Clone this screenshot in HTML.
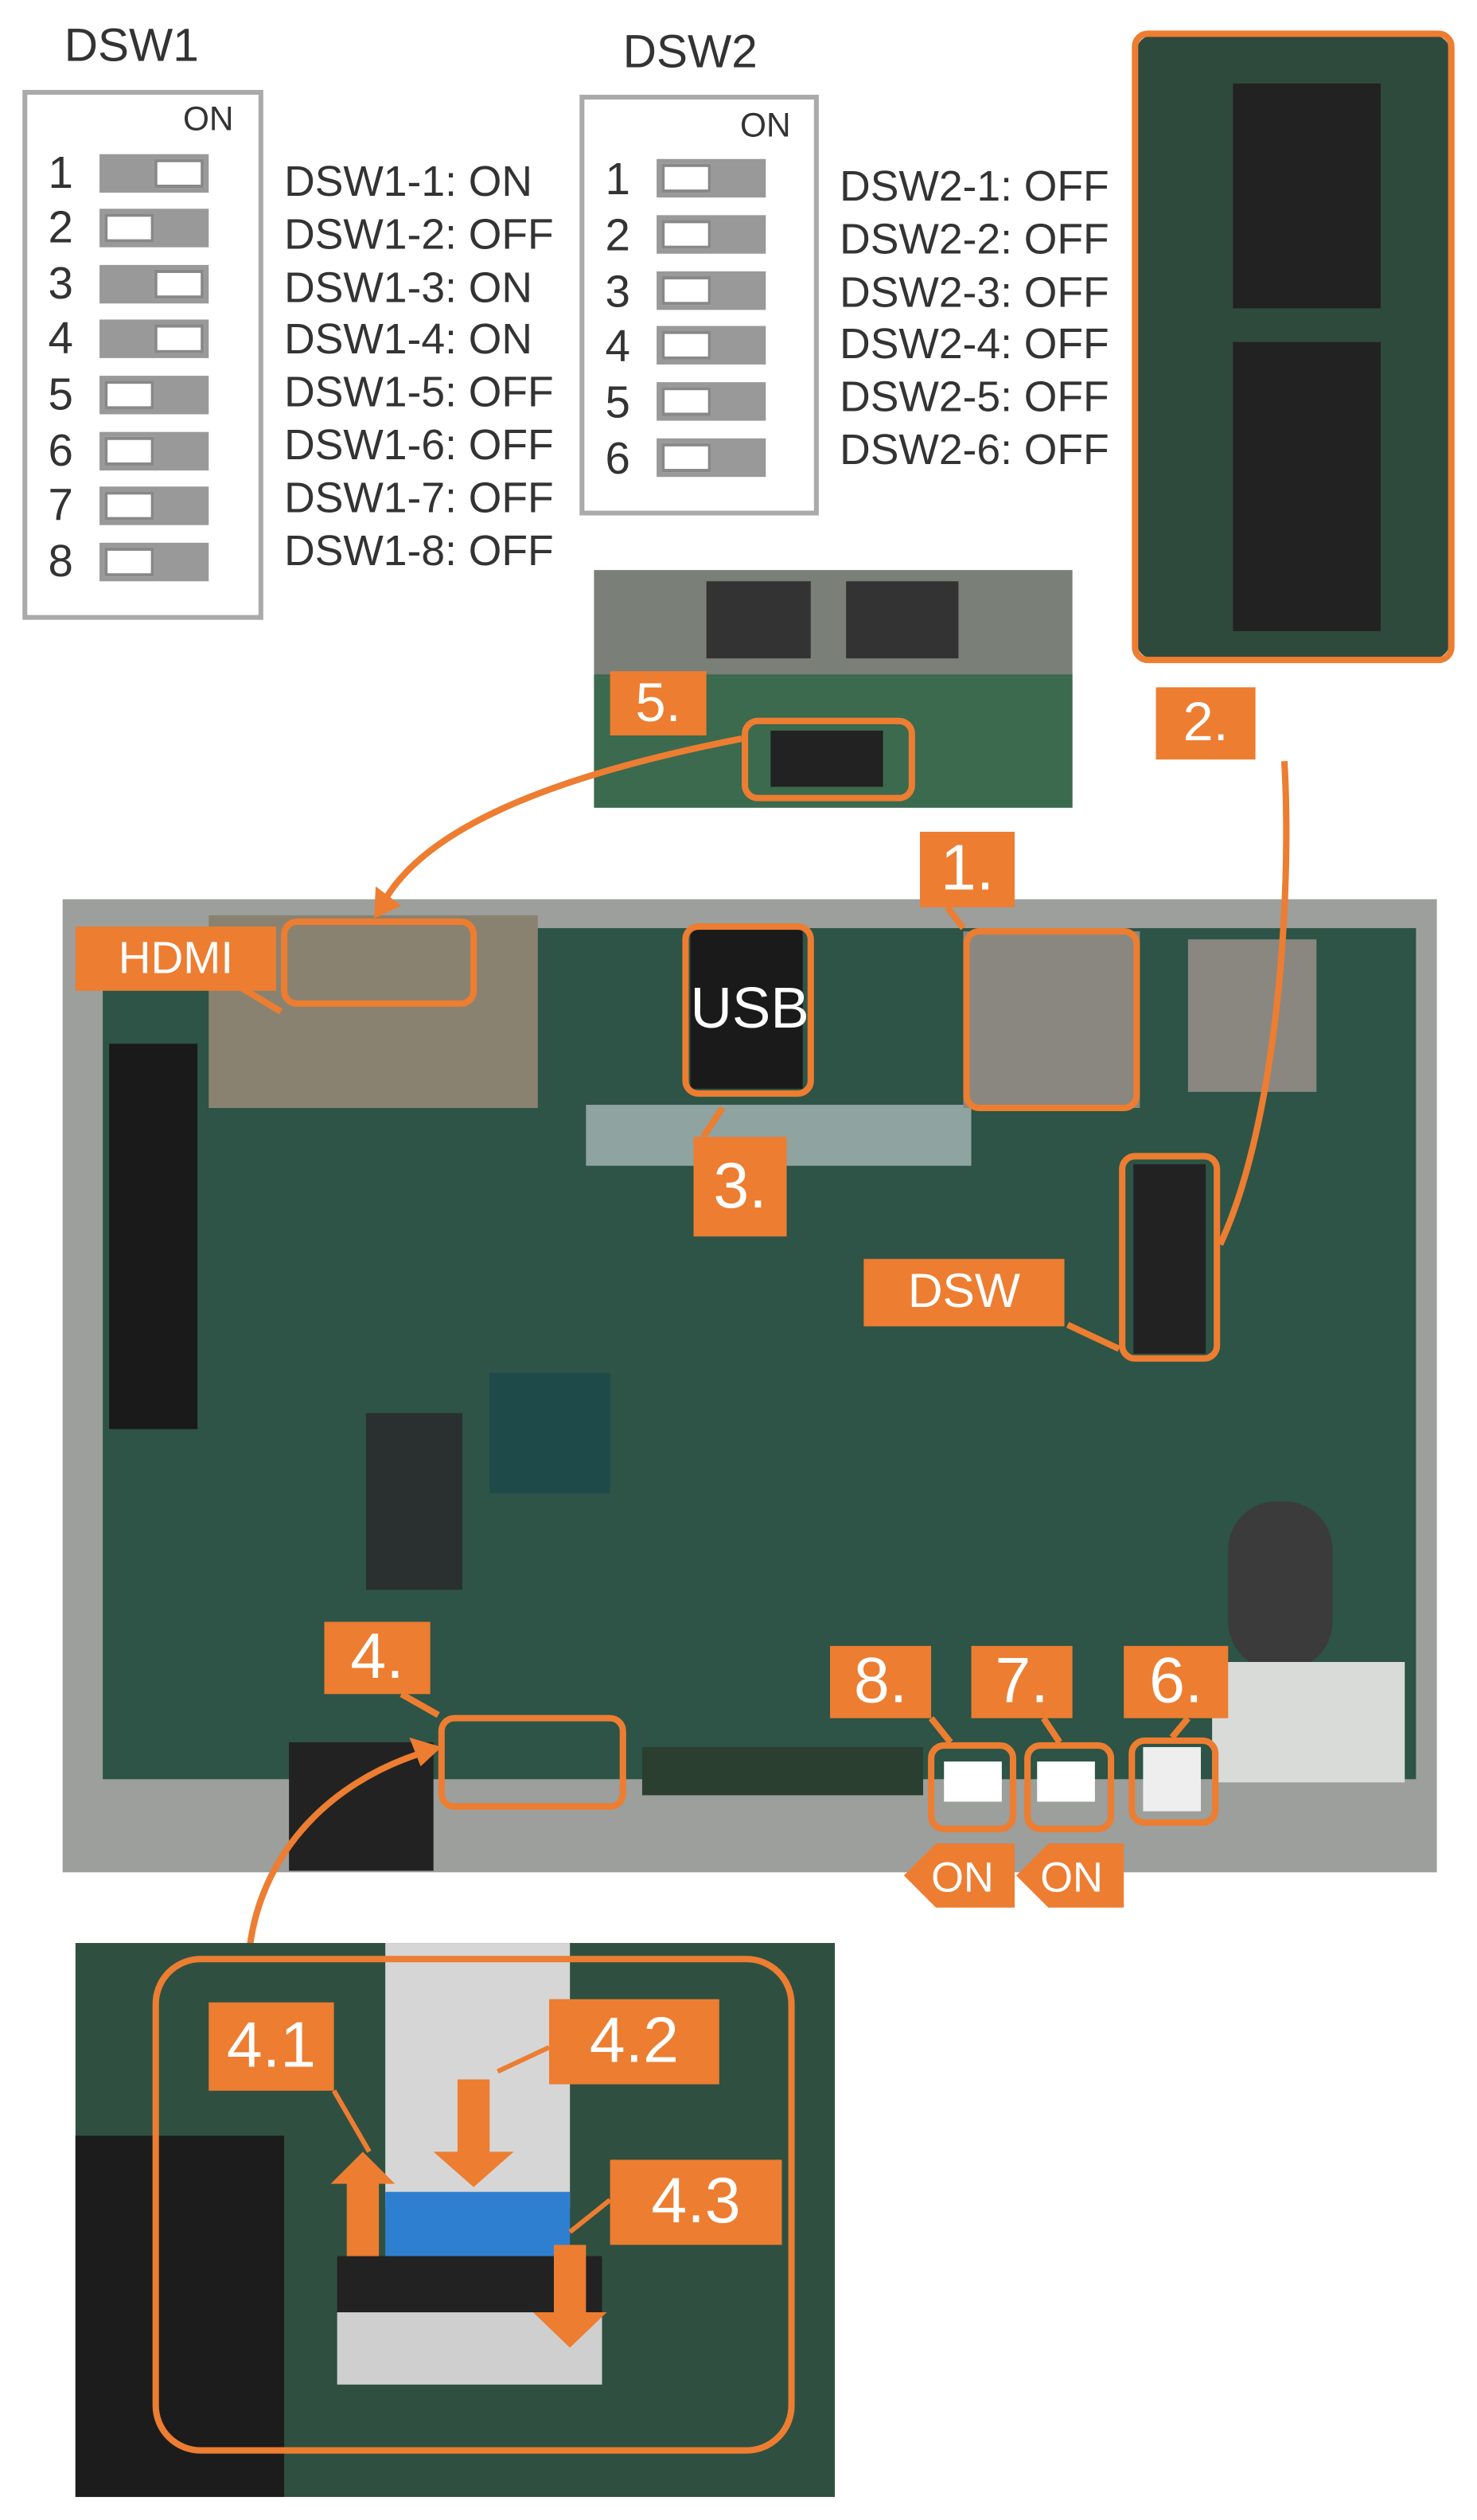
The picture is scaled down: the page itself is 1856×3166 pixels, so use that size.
<!DOCTYPE html>
<html><head><meta charset="utf-8"><style>
html,body{margin:0;padding:0;background:#fff;}
body{width:1856px;height:3166px;overflow:hidden;position:relative;}
#w{position:absolute;left:0;top:0;width:920px;height:1569px;transform:scale(2.0174);transform-origin:0 0;font-family:"Liberation Sans",sans-serif;}
.a{position:absolute;}
.t{position:absolute;color:#333;font-size:26px;line-height:1;}
.lab{position:absolute;background:#ed7d31;color:#fff;font-size:34px;line-height:1;text-align:center;}
.ob{position:absolute;border:4px solid #ed7d31;border-radius:10px;box-sizing:border-box;}
.sw{position:absolute;width:68px;height:24px;background:#999;box-sizing:border-box;}
.sw i{position:absolute;top:3px;width:31px;height:18px;background:#fff;border:2px solid #888;box-sizing:border-box;}
.n{font-size:28px;}
</style></head><body><div id="w">
<!-- DSW1 -->
<div class="t" style="left:40px;top:15px;font-size:29px">DSW1</div>
<div class="a" style="left:14px;top:56px;width:150px;height:330px;border:3px solid #aaa;box-sizing:border-box"></div>
<div class="t" style="left:114px;top:64px;font-size:21px">ON</div>
<div class="t n" style="left:30px;top:94px">1</div><div class="sw" style="left:62px;top:96px"><i style="left:34px"></i></div>
<div class="t n" style="left:30px;top:128px">2</div><div class="sw" style="left:62px;top:130px"><i style="left:3px"></i></div>
<div class="t n" style="left:30px;top:163px">3</div><div class="sw" style="left:62px;top:165px"><i style="left:34px"></i></div>
<div class="t n" style="left:30px;top:197px">4</div><div class="sw" style="left:62px;top:199px"><i style="left:34px"></i></div>
<div class="t n" style="left:30px;top:232px">5</div><div class="sw" style="left:62px;top:234px"><i style="left:3px"></i></div>
<div class="t n" style="left:30px;top:267px">6</div><div class="sw" style="left:62px;top:269px"><i style="left:3px"></i></div>
<div class="t n" style="left:30px;top:301px">7</div><div class="sw" style="left:62px;top:303px"><i style="left:3px"></i></div>
<div class="t n" style="left:30px;top:336px">8</div><div class="sw" style="left:62px;top:338px"><i style="left:3px"></i></div>
<div class="t" style="left:177px;top:97px;line-height:32.8px;font-size:26.5px">DSW1-1: ON<br>DSW1-2: OFF<br>DSW1-3: ON<br>DSW1-4: ON<br>DSW1-5: OFF<br>DSW1-6: OFF<br>DSW1-7: OFF<br>DSW1-8: OFF</div>
<!-- DSW2 -->
<div class="t" style="left:388px;top:19px;font-size:29px">DSW2</div>
<div class="a" style="left:361px;top:59px;width:149px;height:262px;border:3px solid #aaa;box-sizing:border-box"></div>
<div class="t" style="left:461px;top:68px;font-size:21px">ON</div>
<div class="t n" style="left:377px;top:98px">1</div><div class="sw" style="left:409px;top:99px"><i style="left:3px"></i></div>
<div class="t n" style="left:377px;top:133px">2</div><div class="sw" style="left:409px;top:134px"><i style="left:3px"></i></div>
<div class="t n" style="left:377px;top:168px">3</div><div class="sw" style="left:409px;top:169px"><i style="left:3px"></i></div>
<div class="t n" style="left:377px;top:202px">4</div><div class="sw" style="left:409px;top:203px"><i style="left:3px"></i></div>
<div class="t n" style="left:377px;top:237px">5</div><div class="sw" style="left:409px;top:238px"><i style="left:3px"></i></div>
<div class="t n" style="left:377px;top:272px">6</div><div class="sw" style="left:409px;top:273px"><i style="left:3px"></i></div>
<div class="t" style="left:523px;top:100px;line-height:32.8px;font-size:26.5px">DSW2-1: OFF<br>DSW2-2: OFF<br>DSW2-3: OFF<br>DSW2-4: OFF<br>DSW2-5: OFF<br>DSW2-6: OFF</div>
<!-- DSW photo -->
<div class="a" style="left:708px;top:22px;width:195px;height:388px;background:#2e4a3c;border-radius:10px"></div>
<div class="a" style="left:768px;top:52px;width:92px;height:140px;background:#222"></div>
<div class="a" style="left:768px;top:213px;width:92px;height:180px;background:#222"></div>
<div class="ob" style="left:705px;top:19px;width:201px;height:394px"></div>
<div class="lab" style="left:720px;top:428px;width:62px;height:45px;line-height:45px">2.</div>
<!-- HDMI photo -->
<div class="a" style="left:370px;top:355px;width:298px;height:148px;background:#7a7f78"></div>
<div class="a" style="left:370px;top:420px;width:298px;height:83px;background:#3b6a4e"></div>
<div class="a" style="left:440px;top:362px;width:65px;height:48px;background:#333"></div>
<div class="a" style="left:527px;top:362px;width:70px;height:48px;background:#333"></div>
<div class="a" style="left:480px;top:455px;width:70px;height:35px;background:#222"></div>
<div class="ob" style="left:462px;top:447px;width:108px;height:52px"></div>
<div class="lab" style="left:380px;top:418px;width:60px;height:40px;line-height:40px">5.</div>
<!-- Main board -->
<div class="a" style="left:39px;top:560px;width:856px;height:606px;background:#9c9f9c"></div>
<div class="a" style="left:64px;top:578px;width:818px;height:530px;background:#2d5446"></div>
<div class="a" style="left:130px;top:570px;width:205px;height:120px;background:#8a8270"></div>
<div class="a" style="left:68px;top:650px;width:55px;height:240px;background:#1a1a1a"></div>
<div class="a" style="left:365px;top:688px;width:240px;height:38px;background:#8fa3a0"></div>
<div class="a" style="left:430px;top:578px;width:70px;height:100px;background:#1a1a1a"></div>
<div class="a" style="left:600px;top:580px;width:110px;height:110px;background:#8a8780"></div>
<div class="a" style="left:740px;top:585px;width:80px;height:95px;background:#8a8780"></div>
<div class="a" style="left:305px;top:855px;width:75px;height:75px;background:#1f4a4a"></div>
<div class="a" style="left:228px;top:880px;width:60px;height:110px;background:#2a3030"></div>
<div class="a" style="left:765px;top:935px;width:65px;height:105px;background:#3b3b3b;border-radius:30px"></div>
<div class="a" style="left:755px;top:1035px;width:120px;height:75px;background:#d8dbd8"></div>
<div class="a" style="left:180px;top:1085px;width:90px;height:80px;background:#222"></div>
<div class="a" style="left:400px;top:1088px;width:175px;height:30px;background:#2a3f30"></div>
<div class="a" style="left:588px;top:1097px;width:36px;height:25px;background:#fff"></div>
<div class="a" style="left:646px;top:1097px;width:36px;height:25px;background:#fff"></div>
<div class="a" style="left:712px;top:1088px;width:36px;height:40px;background:#eee"></div>
<div class="a" style="left:706px;top:725px;width:45px;height:118px;background:#222"></div>
<div class="lab" style="left:47px;top:577px;width:125px;height:40px;line-height:40px;font-size:28px">HDMI</div>
<div class="ob" style="left:175px;top:572px;width:122px;height:55px"></div>
<div class="ob" style="left:425px;top:575px;width:82px;height:108px"></div>
<div class="t" style="left:430px;top:610px;color:#fff;font-size:36px">USB</div>
<div class="lab" style="left:432px;top:708px;width:58px;height:62px;line-height:62px;font-size:40px">3.</div>
<div class="lab" style="left:573px;top:518px;width:59px;height:47px;line-height:47px;font-size:40px">1.</div>
<div class="ob" style="left:600px;top:578px;width:110px;height:114px"></div>
<div class="lab" style="left:538px;top:784px;width:125px;height:42px;line-height:42px;font-size:30px">DSW</div>
<div class="ob" style="left:697px;top:718px;width:63px;height:130px"></div>
<div class="lab" style="left:202px;top:1010px;width:66px;height:45px;line-height:45px;font-size:40px">4.</div>
<div class="ob" style="left:273px;top:1068px;width:117px;height:59px"></div>
<div class="lab" style="left:517px;top:1025px;width:63px;height:45px;line-height:45px;font-size:40px">8.</div>
<div class="lab" style="left:605px;top:1025px;width:63px;height:45px;line-height:45px;font-size:40px">7.</div>
<div class="lab" style="left:700px;top:1025px;width:65px;height:45px;line-height:45px;font-size:40px">6.</div>
<div class="ob" style="left:578px;top:1085px;width:55px;height:56px"></div>
<div class="ob" style="left:638px;top:1085px;width:56px;height:56px"></div>
<div class="ob" style="left:703px;top:1082px;width:56px;height:55px"></div>
<svg class="a" style="left:0;top:0" width="920" height="1569">
<polygon points="563,1168 583,1148 632,1148 632,1188 583,1188" fill="#ed7d31"/>
<polygon points="633,1168 653,1148 700,1148 700,1188 653,1188" fill="#ed7d31"/>
<text x="580" y="1178" fill="#fff" font-family="Liberation Sans" font-size="26">ON</text>
<text x="648" y="1178" fill="#fff" font-family="Liberation Sans" font-size="26">ON</text>
<g stroke="#ed7d31" stroke-width="4" fill="none">
<path d="M800,474 C805,560 795,700 760,775"/>
<path d="M462,460 C360,480 270,510 240,560"/>
<path d="M155,1218 C160,1160 200,1110 268,1090"/>
<path d="M150,615 L175,630"/><path d="M665,825 L697,840"/><path d="M450,690 L438,708"/><path d="M590,565 L600,578"/>
<path d="M250,1055 L273,1068"/><path d="M580,1070 L592,1085"/><path d="M650,1070 L660,1085"/><path d="M740,1070 L730,1082"/>
</g>
<polygon points="233,572 234,552 250,564" fill="#ed7d31"/>
<polygon points="275,1088 255,1082 262,1100" fill="#ed7d31"/>
</svg>
<!-- Bottom photo -->
<div class="a" style="left:47px;top:1210px;width:473px;height:345px;background:#2f5040"></div>
<div class="a" style="left:47px;top:1330px;width:130px;height:225px;background:#1c1c1c"></div>
<div class="a" style="left:240px;top:1210px;width:115px;height:165px;background:#d6d6d6"></div>
<div class="a" style="left:240px;top:1365px;width:115px;height:45px;background:#2f7fd0"></div>
<div class="a" style="left:210px;top:1405px;width:165px;height:40px;background:#222"></div>
<div class="a" style="left:210px;top:1440px;width:165px;height:45px;background:#cfcfcf"></div>
<div class="ob" style="left:95px;top:1218px;width:400px;height:310px;border-radius:30px"></div>
<div class="lab" style="left:130px;top:1247px;width:78px;height:55px;line-height:55px;font-size:40px">4.1</div>
<div class="lab" style="left:342px;top:1245px;width:106px;height:53px;line-height:53px;font-size:40px">4.2</div>
<div class="lab" style="left:380px;top:1345px;width:107px;height:53px;line-height:53px;font-size:40px">4.3</div>
<svg class="a" style="left:0;top:0" width="920" height="1569">
<g stroke="#ed7d31" stroke-width="3" fill="none"><path d="M208,1302 L230,1340"/><path d="M342,1275 L310,1290"/><path d="M380,1370 L355,1390"/></g>
<polygon points="216,1405 216,1360 206,1360 226,1340 246,1360 236,1360 236,1405" fill="#ed7d31"/>
<polygon points="285,1295 305,1295 305,1340 320,1340 295,1362 270,1340 285,1340" fill="#ed7d31"/>
<polygon points="345,1398 365,1398 365,1440 378,1440 355,1462 332,1440 345,1440" fill="#ed7d31"/>
</svg>
</div></body></html>
